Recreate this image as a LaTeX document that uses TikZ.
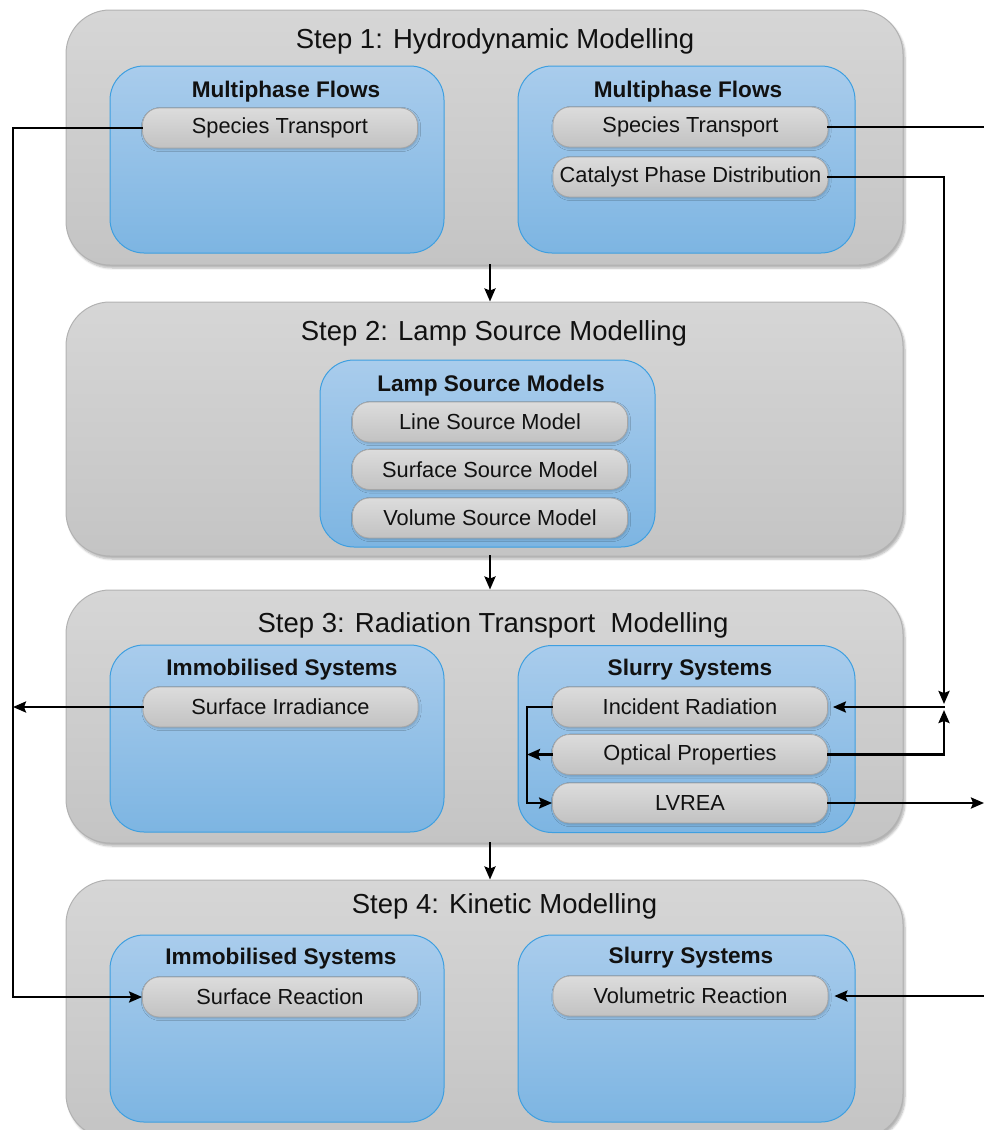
\documentclass[tikz,border=0pt]{standalone}
\usepackage{fontspec}
\setmainfont{Liberation Sans}
\usetikzlibrary{arrows.meta,shadows.blur}
\definecolor{stepTop}{HTML}{D6D6D6}
\definecolor{stepBot}{HTML}{C4C4C4}
\definecolor{stepLine}{HTML}{B2B2B2}
\definecolor{blueTop}{HTML}{A9CCEC}
\definecolor{blueBot}{HTML}{7DB5E2}
\definecolor{blueLine}{HTML}{3E9FE0}
\definecolor{pillTop}{HTML}{DCDCDC}
\definecolor{pillBot}{HTML}{C2C2C2}
\definecolor{pillLine}{HTML}{A6A6A6}
\definecolor{ink}{HTML}{111111}
\begin{document}
\begin{tikzpicture}[x=1pt,y=-1pt,
  stepbox/.style={draw=stepLine, line width=1pt, rounded corners=44pt,
    top color=stepTop, bottom color=stepBot, minimum width=837pt, inner sep=0pt,
    blur shadow={shadow xshift=2pt,shadow yshift=-3pt,shadow opacity=30,shadow blur steps=6}},
  groupbox/.style={draw=blueLine, line width=1pt, rounded corners=34pt,
    top color=blueTop, bottom color=blueBot, minimum height=187pt, inner sep=0pt},
  pill/.style={draw=pillLine, line width=0.8pt, rounded corners=17pt,
    top color=pillTop, bottom color=pillBot, minimum width=275pt, minimum height=40pt,
    inner sep=0pt, text=ink, font=\fontsize{21.8}{24}\selectfont,
    blur shadow={shadow xshift=1pt,shadow yshift=-1.5pt,shadow opacity=20,shadow blur steps=3}},
  steptitle/.style={text=ink, inner sep=0pt, font=\fontsize{27.5}{30}\selectfont},
  grouptitle/.style={text=ink, inner sep=0pt, font=\fontsize{22.6}{25}\selectfont\bfseries},
  link/.style={line width=2.4pt, line cap=rect},
  arr/.style={link, -{Stealth[length=13pt,width=11pt,inset=2pt]}}
]
\useasboundingbox (0,0) rectangle (984,1130);

% ---------- step boxes ----------
\node[stepbox, minimum height=255pt] (S1) at (484.5,137.5) {};
\node[stepbox, minimum height=254pt] (S2) at (484.5,429) {};
\node[stepbox, minimum height=253pt] (S3) at (484.5,716.5) {};
\node[stepbox, minimum height=258pt] (S4) at (484.5,1009) {};

\node[steptitle] (T1) at (495,41) {Step 1: Hydrodynamic Modelling};
\node[steptitle] (T2) at (494,333) {Step 2: Lamp Source Modelling};
\node[steptitle] (T3) at (493,625) {Step 3: Radiation Transport \ Modelling};
\node[steptitle] (T4) at (504.5,906) {Step 4: Kinetic Modelling};

% ---------- group boxes ----------
\node[groupbox, minimum width=334pt] (B1L) at (277,159.5) {};
\node[groupbox, minimum width=337pt] (B1R) at (686.5,159.5) {};
\node[groupbox, minimum width=335pt] (B2)  at (487.5,453.5) {};
\node[groupbox, minimum width=334pt] (B3L) at (277,738.5) {};
\node[groupbox, minimum width=337pt] (B3R) at (686.5,739) {};
\node[groupbox, minimum width=334pt] (B4L) at (277,1028.5) {};
\node[groupbox, minimum width=337pt] (B4R) at (686.5,1028.5) {};

\node[grouptitle] (G1L) at (286,92) {Multiphase Flows};
\node[grouptitle] (G1R) at (688,92) {Multiphase Flows};
\node[grouptitle] (G2)  at (491,386) {Lamp Source Models};
\node[grouptitle] (G3L) at (282,670) {Immobilised Systems};
\node[grouptitle] (G3R) at (690,670) {Slurry Systems};
\node[grouptitle] (G4L) at (281,959) {Immobilised Systems};
\node[grouptitle] (G4R) at (691,958) {Slurry Systems};

% ---------- pills ----------
\node[pill] (P1a) at (280,128) {Species Transport};
\node[pill] (P1b) at (690.5,127) {Species Transport};
\node[pill] (P1c) at (690.5,177) {Catalyst Phase Distribution};
\node[pill] (P2a) at (490,422) {Line Source Model};
\node[pill] (P2b) at (490,469.5) {Surface Source Model};
\node[pill] (P2c) at (490,518) {Volume Source Model};
\node[pill] (P3a) at (280.5,707) {Surface Irradiance};
\node[pill] (P3b) at (690,707) {Incident Radiation};
\node[pill] (P3c) at (690,754.5) {Optical Properties};
\node[pill] (P3d) at (690,803) {LVREA};
\node[pill] (P4a) at (280,997) {Surface Reaction};
\node[pill] (P4b) at (690.5,996) {Volumetric Reaction};

% ---------- helper coordinates ----------
\coordinate (L) at (13,128);
\coordinate (R) at (995,127);
\coordinate (E) at (984,803);
\coordinate (J) at (944,707);
\coordinate (K) at (527,707);

% ---------- step-to-step arrows ----------
\draw[arr] (S1.south -| P2a) -- (S2.north -| P2a);
\draw[arr] (S2.south -| P2a) -- (S3.north -| P2a);
\draw[arr] (S3.south -| P2a) -- (S4.north -| P2a);

% ---------- left side ----------
\draw[arr] (P1a.west) -- (L) |- (P4a.west);
\draw[arr] (P3a.west) -- (P3a.west -| L);

% ---------- right side ----------
\draw[arr, shorten >=6pt] (P1b.east) -- (R) |- (P4b.east);
\draw[arr] (P3d.east) -- (E);
\draw[arr, shorten >=3pt] (P1c.east) -| (J);
\draw[arr, shorten >=3pt] (P3c.east) -| (J);
\draw[arr, shorten >=5pt] (J) -- (P3b.east);

% ---------- slurry internal ----------
\draw[arr] (P3b.west) -- (K) |- (P3d.west);
\draw[arr] (P3c.west) -- (P3c.west -| K);
\end{tikzpicture}
\end{document}
